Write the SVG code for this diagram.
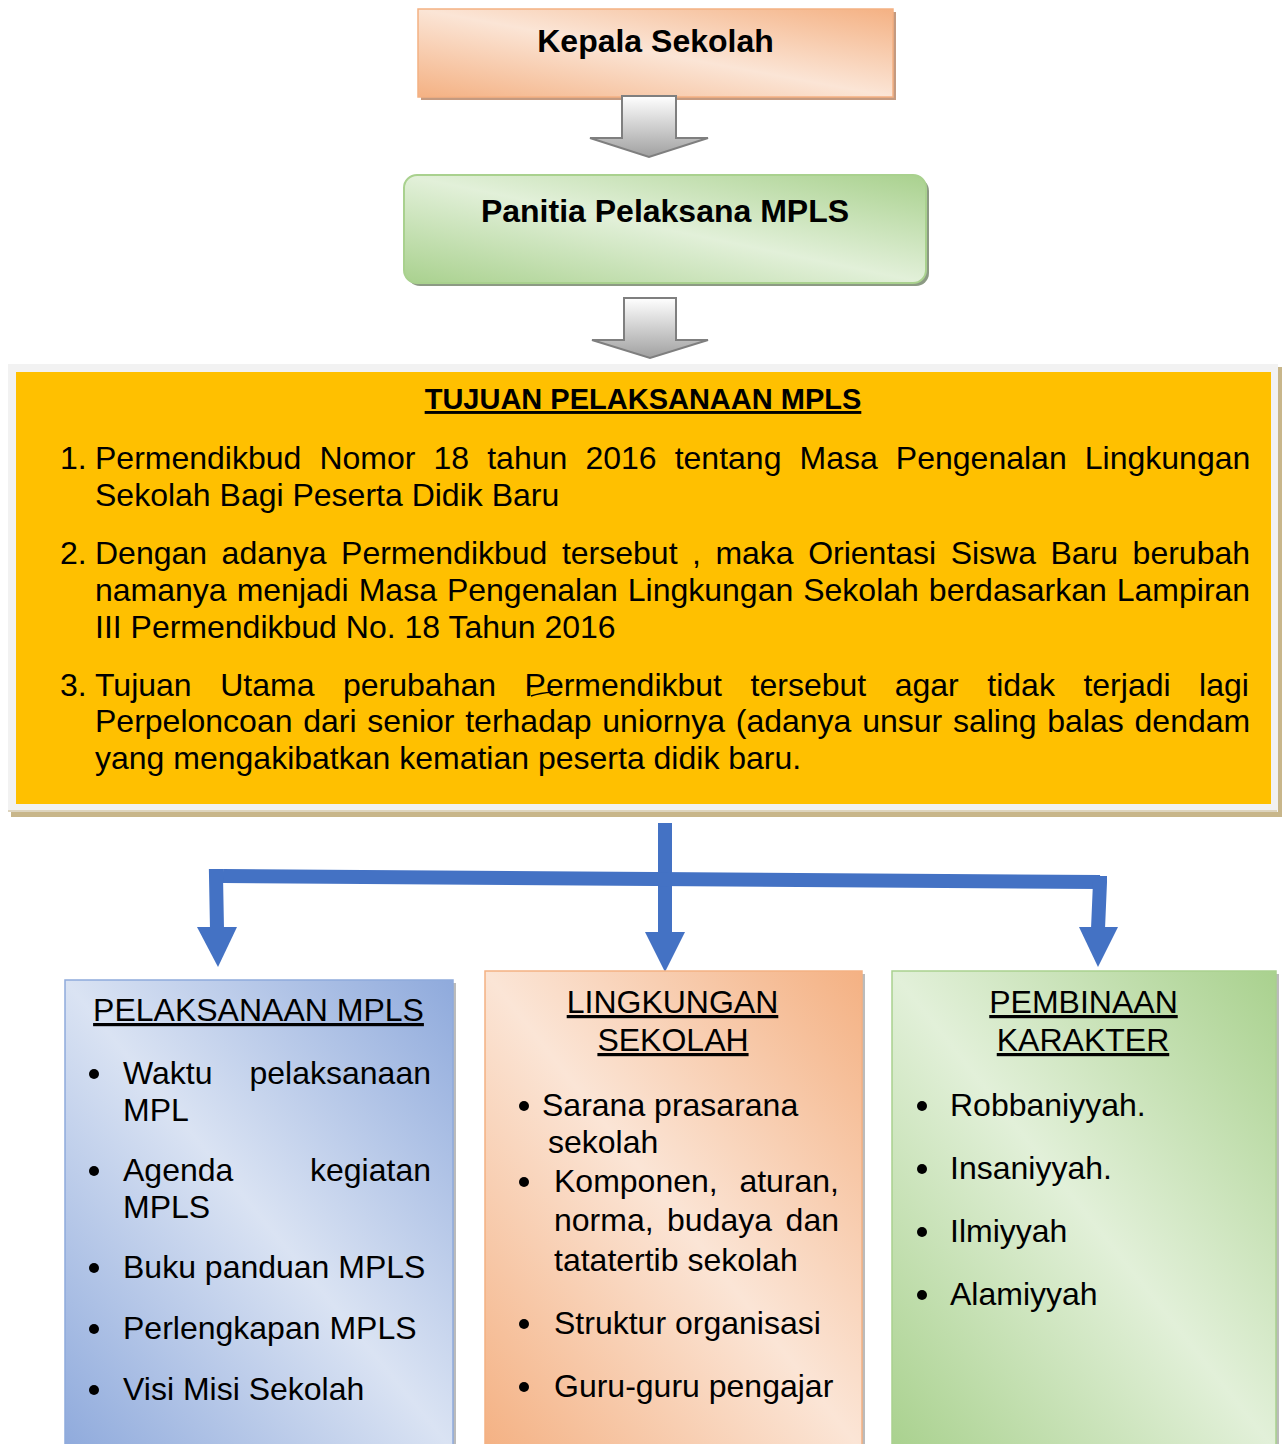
<svg xmlns="http://www.w3.org/2000/svg" width="1285" height="1444" viewBox="0 0 1285 1444">
<defs>
<linearGradient id="gOrange" x1="1" y1="0" x2="0" y2="1">
<stop offset="0" stop-color="#F4B183"/><stop offset="0.5" stop-color="#FBE5D6"/><stop offset="1" stop-color="#F4B183"/>
</linearGradient>
<linearGradient id="gGreen" x1="1" y1="0" x2="0" y2="1">
<stop offset="0" stop-color="#A9D18E"/><stop offset="0.5" stop-color="#E2F0D9"/><stop offset="1" stop-color="#A9D18E"/>
</linearGradient>
<linearGradient id="gBlue" x1="1" y1="0" x2="0" y2="1">
<stop offset="0" stop-color="#8FAADC"/><stop offset="0.5" stop-color="#DAE3F3"/><stop offset="1" stop-color="#8FAADC"/>
</linearGradient>
<linearGradient id="gArrow" x1="0" y1="0" x2="0" y2="1">
<stop offset="0" stop-color="#FFFFFF"/><stop offset="1" stop-color="#A0A0A0"/>
</linearGradient>
<style>
text{font-family:"Liberation Sans",Arial,sans-serif;fill:#000}
.b{font-weight:bold;font-size:32px}
.t{font-size:32px}
.u{text-decoration:underline}
.dot{fill:#000}
.arrow{fill:url(#gArrow);stroke:#7F7F7F;stroke-width:2}
.conn{fill:none;stroke:#4472C4;stroke-width:14;stroke-linejoin:miter}
.head{fill:#4472C4}
.shadow{fill:#9E9E9E;opacity:0.7}
</style>
</defs>

<g id="kepala-sekolah">
<rect x="421" y="12" width="475" height="88" fill="#C49A80"/>
<rect x="418" y="9" width="475" height="88" fill="url(#gOrange)" stroke="#F4B183" stroke-width="1.5"/>
<text class="b" x="655.5" y="52" text-anchor="middle">Kepala Sekolah</text>
</g>

<g id="arrow-1">
<polygon class="arrow" points="622,96 676,96 676,138 708,138 649,157 590,138 622,138"/>
</g>

<g id="panitia">
<rect x="407" y="178" width="522" height="108" rx="13" fill="#8C9A84"/>
<rect x="404" y="175" width="522" height="108" rx="13" fill="url(#gGreen)" stroke="#A9D18E" stroke-width="2"/>
<text class="b" x="665" y="222" text-anchor="middle">Panitia Pelaksana MPLS</text>
</g>

<g id="arrow-2">
<polygon class="arrow" points="624,298 676,298 676,340 708,340 650,358 592,340 624,340"/>
</g>

<g id="tujuan">
<rect x="11" y="367" width="1271" height="450" fill="#C8B68A"/>
<rect x="8" y="364" width="1270" height="448" fill="#F2F2F2"/>
<line x1="8" y1="811" x2="1277" y2="811" stroke="#C8B68A" stroke-width="1"/>
<rect x="16" y="372" width="1255" height="432" fill="#FFC000"/>
<text class="u" x="643" y="409" text-anchor="middle" font-weight="bold" font-size="29">TUJUAN PELAKSANAAN MPLS</text>
<text class="t" x="60" y="469">1.</text>
<text class="t" x="95" y="469" word-spacing="9.2">Permendikbud Nomor 18 tahun 2016 tentang Masa Pengenalan Lingkungan</text>
<text class="t" x="95" y="506">Sekolah Bagi Peserta Didik Baru</text>
<text class="t" x="60" y="564">2.</text>
<text class="t" x="95" y="564" word-spacing="5.6">Dengan adanya Permendikbud tersebut , maka Orientasi Siswa Baru berubah</text>
<text class="t" x="95" y="601" word-spacing="1.1">namanya menjadi Masa Pengenalan Lingkungan Sekolah berdasarkan Lampiran</text>
<text class="t" x="95" y="638">III Permendikbud No. 18 Tahun 2016</text>
<text class="t" x="60" y="696">3.</text>
<text class="t" x="95" y="696" word-spacing="19.65">Tujuan Utama perubahan Permendikbut tersebut agar tidak terjadi lagi</text>
<text class="t" x="95" y="732" word-spacing="1.85">Perpeloncoan dari senior terhadap uniornya (adanya unsur saling balas dendam</text>
<text class="t" x="95" y="769">yang mengakibatkan kematian peserta didik baru.</text>
<path d="M531,696 Q540,693 553,692" fill="none" stroke="#000" stroke-width="1.5"/>
</g>

<g id="connectors">
<line class="conn" x1="665" y1="823" x2="665" y2="934"/>
<polyline class="conn" points="1100,882 223,876"/>
<polyline class="conn" points="217,929 216,876 223,876"/>
<polyline class="conn" points="1100,876 1100,882 1098,929"/>
<polygon class="head" points="197,927 237,927 218,967"/>
<polygon class="head" points="645,932 685,932 665,972"/>
<polygon class="head" points="1079,927 1118,927 1098,967"/>
</g>

<g id="pelaksanaan-mpls">
<rect class="shadow" x="68" y="983" width="388" height="470"/>
<rect x="65" y="980" width="388" height="470" fill="url(#gBlue)" stroke="#8FAADC" stroke-width="1.5"/>
<text class="t u" x="258.5" y="1021" text-anchor="middle">PELAKSANAAN MPLS</text>
<circle class="dot" cx="94" cy="1074" r="5"/>
<text class="t" x="123" y="1084">Waktu</text>
<text class="t" x="431" y="1084" text-anchor="end">pelaksanaan</text>
<text class="t" x="123" y="1121">MPL</text>
<circle class="dot" cx="94" cy="1171" r="5"/>
<text class="t" x="123" y="1181">Agenda</text>
<text class="t" x="431" y="1181" text-anchor="end">kegiatan</text>
<text class="t" x="123" y="1218">MPLS</text>
<circle class="dot" cx="94" cy="1268" r="5"/>
<text class="t" x="123" y="1278">Buku panduan MPLS</text>
<circle class="dot" cx="94" cy="1329" r="5"/>
<text class="t" x="123" y="1339">Perlengkapan MPLS</text>
<circle class="dot" cx="94" cy="1390" r="5"/>
<text class="t" x="123" y="1400">Visi Misi Sekolah</text>
</g>

<g id="lingkungan-sekolah">
<rect class="shadow" x="488" y="974" width="377" height="480"/>
<rect x="485" y="971" width="377" height="480" fill="url(#gOrange)" stroke="#F4B183" stroke-width="1.5"/>
<text class="t u" x="672.5" y="1013" text-anchor="middle">LINGKUNGAN</text>
<text class="t u" x="673" y="1051" text-anchor="middle">SEKOLAH</text>
<circle class="dot" cx="524" cy="1106" r="5"/>
<text class="t" x="542" y="1116">Sarana prasarana</text>
<text class="t" x="548" y="1153">sekolah</text>
<circle class="dot" cx="524" cy="1182" r="5"/>
<text class="t" x="554" y="1192">Komponen,</text>
<text class="t" x="839" y="1192" text-anchor="end">aturan,</text>
<text class="t" x="554" y="1231">norma,</text>
<text class="t" x="667" y="1231">budaya</text>
<text class="t" x="839" y="1231" text-anchor="end">dan</text>
<text class="t" x="554" y="1271">tatatertib sekolah</text>
<circle class="dot" cx="524" cy="1324" r="5"/>
<text class="t" x="554" y="1334">Struktur organisasi</text>
<circle class="dot" cx="524" cy="1387" r="5"/>
<text class="t" x="554" y="1397">Guru-guru pengajar</text>
</g>

<g id="pembinaan-karakter">
<rect class="shadow" x="895" y="974" width="384" height="480"/>
<rect x="892" y="971" width="384" height="480" fill="url(#gGreen)" stroke="#A9D18E" stroke-width="1.5"/>
<text class="t u" x="1083.5" y="1013" text-anchor="middle">PEMBINAAN</text>
<text class="t u" x="1083" y="1051" text-anchor="middle">KARAKTER</text>
<circle class="dot" cx="922" cy="1106" r="5"/>
<text class="t" x="950" y="1116">Robbaniyyah.</text>
<circle class="dot" cx="922" cy="1169" r="5"/>
<text class="t" x="950" y="1179">Insaniyyah.</text>
<circle class="dot" cx="922" cy="1232" r="5"/>
<text class="t" x="950" y="1242">Ilmiyyah</text>
<circle class="dot" cx="922" cy="1295" r="5"/>
<text class="t" x="950" y="1305">Alamiyyah</text>
</g>
</svg>
